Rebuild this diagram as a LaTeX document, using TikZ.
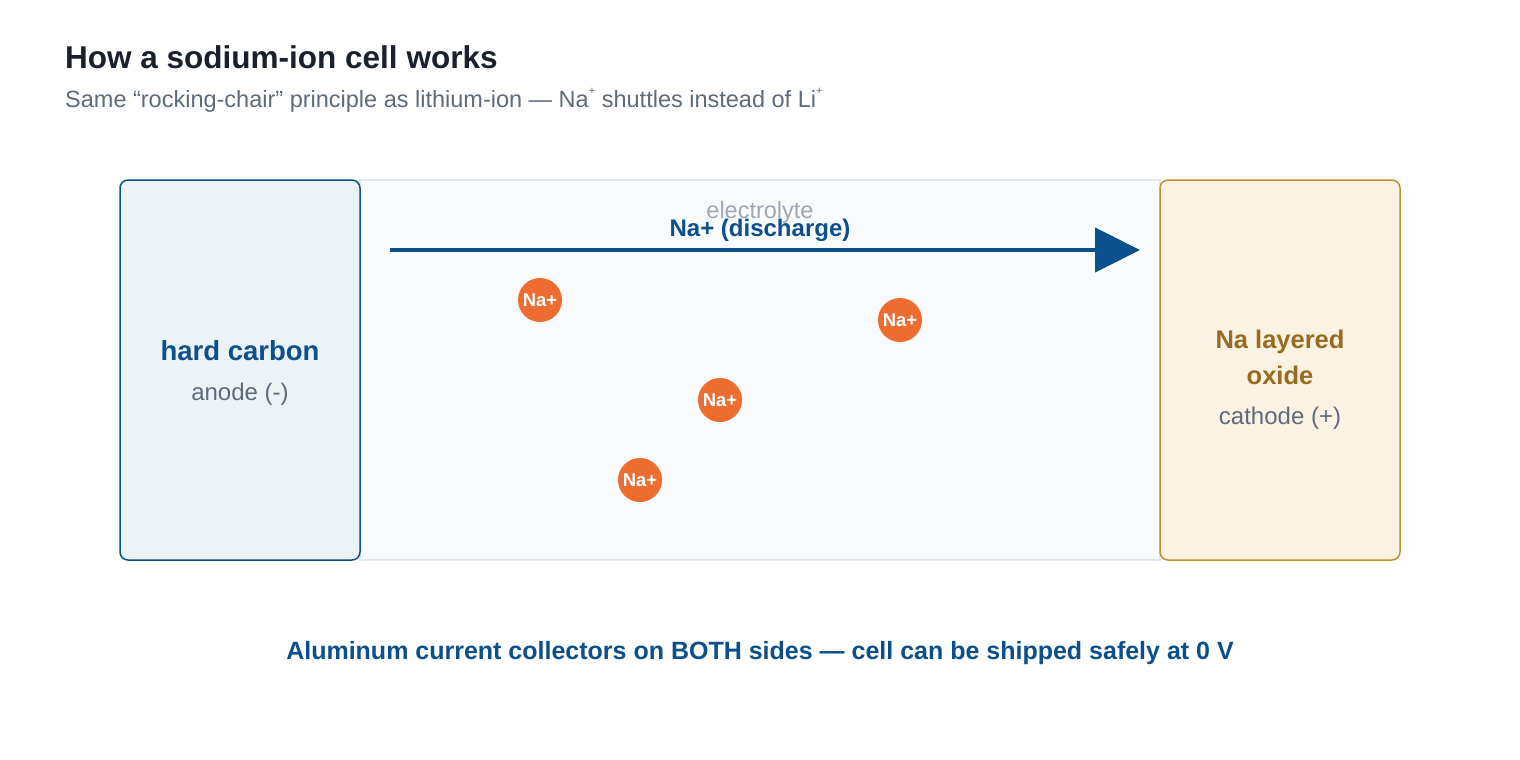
\documentclass[tikz,border=0pt]{standalone}
\usepackage{fontspec}
\setmainfont{Liberation Sans}
\usetikzlibrary{arrows.meta}
\definecolor{titlec}{HTML}{1A202C}
\definecolor{subc}{HTML}{5F6B7A}
\definecolor{navy}{HTML}{0B4F8C}
\definecolor{anfill}{HTML}{EDF2F7}
\definecolor{elfill}{HTML}{F8FAFC}
\definecolor{elline}{HTML}{E2E8F0}
\definecolor{catfill}{HTML}{FAF2E3}
\definecolor{catline}{HTML}{C68E33}
\definecolor{cattext}{HTML}{9A6A1F}
\definecolor{elec}{HTML}{A0A8B4}
\definecolor{ion}{HTML}{EE6C30}
\newcommand{\tinyplus}{\raisebox{0.55em}{\fontsize{11}{12}\selectfont +}}
\tikzset{
  ionc/.style={circle, fill=ion, minimum size=44pt, inner sep=0pt, text=white, font=\fontsize{18.5}{20}\selectfont\bfseries},
  sublbl/.style={text=subc, font=\fontsize{24}{28}\selectfont},
  txt/.style={inner sep=0pt, anchor=base},
}
\begin{document}
\begin{tikzpicture}[x=1pt,y=-1pt]
\useasboundingbox (0,0) rectangle (1520,760);
\fill[white] (0,0) rectangle (1520,760);
% title
\node[txt, anchor=base west, text=titlec, font=\fontsize{31.5}{36}\selectfont\bfseries] (title) at (65,68) {How a sodium-ion cell works};
\node[txt, anchor=base west, text=subc, font=\fontsize{23.5}{28}\selectfont] (subtitle) at (65,107.5) {Same “rocking-chair” principle as lithium-ion — Na\tinyplus\ shuttles instead of Li\tinyplus};
% electrolyte
\draw[elline, fill=elfill, line width=1.2pt] (360,180) rectangle (1160,560);
\node[txt, text=elec, font=\fontsize{23.5}{28}\selectfont] (eltxt) at (760,218.5) {electrolyte};
% anode
\draw[navy, fill=anfill, line width=1.5pt, rounded corners=8pt] (120,180) rectangle (360,560);
\node[txt, text=navy, font=\fontsize{27.5}{32}\selectfont\bfseries] (hc) at (240,360) {hard carbon};
\node[txt, sublbl] (an) at (240,400) {anode (-)};
% cathode
\draw[catline, fill=catfill, line width=1.5pt, rounded corners=8pt] (1160,180) rectangle (1400,560);
\node[txt, text=cattext, font=\fontsize{25.5}{30}\selectfont\bfseries] (nl) at (1280,348) {Na layered};
\node[txt, text=cattext, font=\fontsize{25.5}{30}\selectfont\bfseries] (ox) at (1280,384) {oxide};
\node[txt, sublbl] (ca) at (1280,424) {cathode (+)};
% arrow
\coordinate (a1) at (390,250);
\coordinate (a2) at (1140,250);
\draw[navy, line width=4.5pt, -{Triangle[length=45pt,width=44pt]}] (a1) -- (a2);
\node[txt, text=navy, font=\fontsize{24}{28}\selectfont\bfseries] (dis) at (760,236) {Na+ (discharge)};
% ions
\node[ionc] (i1) at (540,300) {Na+};
\node[ionc] (i2) at (900,320) {Na+};
\node[ionc] (i3) at (720,400) {Na+};
\node[ionc] (i4) at (640,480) {Na+};
% bottom note
\node[txt, text=navy, font=\fontsize{25}{30}\selectfont\bfseries] (note) at (760,659) {Aluminum current collectors on BOTH sides — cell can be shipped safely at 0 V};
\end{tikzpicture}
\end{document}
